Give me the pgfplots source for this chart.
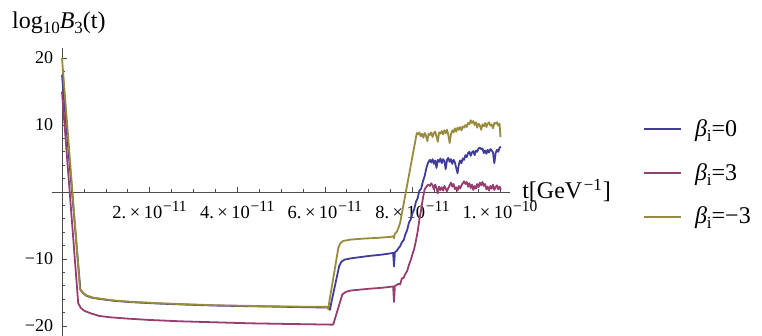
\documentclass[border=0pt]{standalone}
\usepackage{fontspec}
\setmainfont{Liberation Serif}
\usepackage{pgfplots}
\pgfplotsset{compat=1.18}
\definecolor{LineBlue}{rgb}{0.2472,0.24,0.6}
\definecolor{LineMag}{rgb}{0.6,0.24,0.4429}
\definecolor{LineGold}{rgb}{0.6,0.547,0.24}
\newcommand{\xtl}[2]{#1.\hspace{3.5pt}×\hspace{3.5pt}10\hspace{0.8pt}\raisebox{7pt}{\fontsize{15.5}{15}\selectfont −#2}}
\begin{document}
\begin{tikzpicture}
\useasboundingbox (0,0) rectangle (762pt,336pt);
\begin{axis}[
  at={(62pt,144pt)}, anchor=origin,
  x=43.8pt, y=6.7pt,
  xmin=-0.23, xmax=10.23, ymin=-21.5, ymax=21.5,
  axis lines=middle,
  axis line style={-, black!70, line width=0.6pt},
  every inner x axis line/.append style={-},
  every inner y axis line/.append style={-},
  clip=false,
  xtick={2,4,6,8,10},
  xticklabels={\xtl{2}{11},\xtl{4}{11},\xtl{6}{11},\xtl{8}{11},\xtl{1}{10}},
  minor xtick={0.5,1,...,10},
  ytick={-20,-10,10,20},
  yticklabels={−20,−10,10,20},
  minor ytick={-20,-18,...,20},
  tick align=inside,
  major tick length=5pt, minor tick length=3pt,
  tick style={black!70, line width=0.6pt},
  xticklabel style={font=\fontsize{18.5}{20}\selectfont, anchor=north, inner sep=0pt, yshift=-9pt},
  yticklabel style={font=\fontsize{18}{20}\selectfont, anchor=east, inner sep=0pt, xshift=-8.7pt},
  xlabel={t[GeV\hspace{1.5pt}\raisebox{8pt}{\fontsize{17}{17}\selectfont −1}\hspace{1pt}]},
  ylabel={log\raisebox{-5pt}{\fontsize{17}{17}\selectfont 10}\textit{B}\raisebox{-5pt}{\fontsize{17}{17}\selectfont 3}(t)},
  every axis x label/.style={at={(axis description cs:1,0.5)}, anchor=base west, inner sep=0pt, xshift=12pt, yshift=-6.3pt, font=\fontsize{24}{26}\selectfont},
  every axis y label/.style={at={(axis description cs:0,1)}, anchor=base west, inner sep=0pt, xshift=-40pt, yshift=19.7pt, font=\fontsize{24}{26}\selectfont},
  legend image code/.code={\draw[#1] (0pt,7pt) -- (37pt,7pt);},
  legend style={at={(axis description cs:1.2904,0.7628)}, anchor=north west, draw=none, fill=none, inner sep=0pt,
    font=\fontsize{24}{28}\selectfont, row sep=0pt,
    nodes={inner sep=0pt, anchor=base west, text height=20pt, text depth=23.7pt}},
  legend cell align=left,
  /tikz/every even column/.append style={column sep=0pt},
  /tikz/every odd column/.append style={column sep=12.7pt},
]
\addlegendimage{draw=LineBlue, line width=2pt}
\addlegendentry{\textit{β}\raisebox{-5pt}{\fontsize{17}{17}\selectfont i}=0}
\addlegendimage{draw=LineMag, line width=2pt}
\addlegendentry{\textit{β}\raisebox{-5pt}{\fontsize{17}{17}\selectfont i}=3}
\addlegendimage{draw=LineGold, line width=2pt}
\addlegendentry{\textit{β}\raisebox{-5pt}{\fontsize{17}{17}\selectfont i}=−3}
\addplot[draw=LineBlue, line width=1.8pt, line join=round, forget plot] coordinates {
(0,17.5) (0.42,-14.6) (0.48,-15.1) (0.56,-15.5) (0.7,-15.8) (0.9,-16.0) (1.2,-16.25) (1.6,-16.45)
(2.2,-16.65) (2.8,-16.8) (3.5,-16.95) (4.3,-17.05) (5.2,-17.15) (6.10,-17.25) (6.12,-17.6) (6.14,-16.8)
(6.33,-11.0) (6.38,-10.4) (6.45,-10.1) (6.6,-9.9) (7.0,-9.55) (7.3,-9.35) (7.56,-9.1) (7.58,-11.1)
(7.60,-9.0) (7.64,-8.8) (7.68,-8.4) (7.72,-8.1) (7.76,-7.5) (7.80,-7.2) (7.84,-6.3) (7.88,-5.7)
(7.92,-4.6) (7.96,-4.1) (8.00,-3.2) (8.04,-2.6) (8.08,-1.5) (8.12,-0.9) (8.16,0.2) (8.20,0.5)
(8.24,1.6) (8.28,2.4) (8.32,3.6) (8.36,4.4) (8.40,4.8) (8.43,4.4) (8.46,4.9) (8.49,4.2) (8.52,4.7)
(8.55,3.6) (8.58,4.8) (8.61,4.5) (8.64,5.0) (8.67,4.3) (8.70,4.9) (8.73,4.6) (8.76,3.4) (8.79,4.8)
(8.82,5.1) (8.85,4.5) (8.88,4.9) (8.91,4.2) (8.94,4.8) (8.97,4.4) (9.00,3.6) (9.03,2.8) (9.06,4.1)
(9.09,4.7) (9.12,4.3) (9.15,5.0) (9.18,4.8) (9.21,5.5) (9.24,5.2) (9.27,5.8) (9.30,6.0) (9.33,5.4)
(9.36,5.9) (9.39,6.1) (9.42,5.5) (9.45,6.2) (9.48,6.0) (9.51,6.5) (9.54,6.6) (9.57,6.4) (9.60,6.5)
(9.63,5.8) (9.66,6.2) (9.69,5.7) (9.72,6.3) (9.75,5.9) (9.78,6.4) (9.81,6.2) (9.84,5.9) (9.87,4.3)
(9.90,5.8) (9.93,6.3) (9.96,6.0) (9.99,6.6) (10.02,6.8)
};
\addplot[draw=LineMag, line width=1.8pt, line join=round, forget plot] coordinates {
(0,15.0) (0.37,-16.6) (0.43,-17.3) (0.5,-17.7) (0.65,-18.1) (0.85,-18.5) (1.1,-18.7) (1.5,-18.9)
(2.0,-19.1) (2.7,-19.3) (3.5,-19.45) (4.3,-19.6) (5.2,-19.7) (6.19,-19.8) (6.21,-19.4) (6.40,-15.3)
(6.48,-14.9) (6.6,-14.7) (7.0,-14.45) (7.3,-14.3) (7.56,-14.1) (7.58,-16.4) (7.60,-14.0) (7.64,-13.9)
(7.68,-13.7) (7.72,-13.8) (7.76,-12.9) (7.80,-12.8) (7.84,-12.2) (7.88,-11.8) (7.92,-10.9) (7.96,-10.2)
(8.00,-9.3) (8.04,-8.5) (8.08,-7.3) (8.12,-5.9) (8.16,-4.1) (8.20,-2.6) (8.24,-0.9) (8.28,0.4)
(8.32,0.8) (8.36,1.1) (8.40,0.9) (8.43,1.3) (8.46,1.0) (8.49,0.4) (8.52,1.1) (8.55,0.6) (8.58,-0.2)
(8.61,0.8) (8.64,0.3) (8.67,0.7) (8.70,0.2) (8.73,0.9) (8.76,0.5) (8.79,0.1) (8.82,0.6) (8.85,1.0)
(8.88,1.4) (8.91,0.8) (8.94,1.2) (8.97,0.4) (9.00,0.7) (9.03,0.2) (9.06,0.9) (9.09,0.5) (9.12,1.0)
(9.15,1.3) (9.18,1.6) (9.21,1.2) (9.24,1.5) (9.27,0.8) (9.30,1.3) (9.33,0.6) (9.36,1.1) (9.39,0.3)
(9.42,0.9) (9.45,0.5) (9.48,1.2) (9.51,0.7) (9.54,1.4) (9.57,1.0) (9.60,1.5) (9.63,0.9) (9.66,1.2)
(9.69,0.4) (9.72,0.8) (9.75,0.2) (9.78,0.9) (9.81,0.5) (9.84,1.1) (9.87,0.3) (9.90,0.7) (9.93,1.0)
(9.96,0.4) (9.99,0.8) (10.02,0.3)
};
\addplot[draw=LineGold, line width=1.8pt, line join=round, forget plot] coordinates {
(0,20.0) (0.41,-14.4) (0.47,-15.0) (0.55,-15.4) (0.7,-15.75) (0.9,-15.95) (1.2,-16.2) (1.6,-16.4)
(2.2,-16.6) (2.8,-16.75) (3.5,-16.9) (4.3,-17.0) (5.2,-17.1) (6.06,-17.15) (6.08,-17.5) (6.10,-16.5)
(6.31,-8.3) (6.36,-7.6) (6.42,-7.3) (6.6,-7.1) (6.9,-6.95) (7.2,-6.85) (7.5,-6.7) (7.56,-6.6)
(7.58,-6.9) (7.60,-6.2) (7.64,-6.0) (7.68,-5.4) (7.72,-4.6) (8.10,8.8) (8.13,8.6) (8.16,8.9)
(8.19,8.3) (8.22,8.7) (8.25,8.1) (8.28,8.8) (8.31,8.4) (8.34,7.6) (8.37,8.7) (8.40,8.5) (8.43,8.9)
(8.46,8.2) (8.49,8.8) (8.52,9.0) (8.55,8.3) (8.58,7.5) (8.61,8.9) (8.64,8.7) (8.67,9.1) (8.70,8.6)
(8.73,9.2) (8.76,8.8) (8.79,9.3) (8.82,8.5) (8.85,7.3) (8.88,8.6) (8.91,9.2) (8.94,8.9) (8.97,9.5)
(9.00,9.0) (9.03,9.6) (9.06,9.3) (9.09,9.7) (9.12,9.2) (9.15,9.8) (9.18,9.6) (9.21,10.0) (9.24,9.7)
(9.27,10.3) (9.30,10.1) (9.33,10.7) (9.36,10.3) (9.39,10.6) (9.42,10.0) (9.45,10.4) (9.48,9.6)
(9.51,10.2) (9.54,9.9) (9.57,9.3) (9.60,10.1) (9.63,9.8) (9.66,10.3) (9.69,9.7) (9.72,10.2)
(9.75,10.4) (9.78,9.9) (9.81,10.1) (9.84,9.5) (9.87,10.3) (9.90,10.2) (9.93,10.4) (9.96,9.9)
(9.99,10.2) (10.01,8.2)
};
\end{axis}
\end{tikzpicture}
\end{document}
